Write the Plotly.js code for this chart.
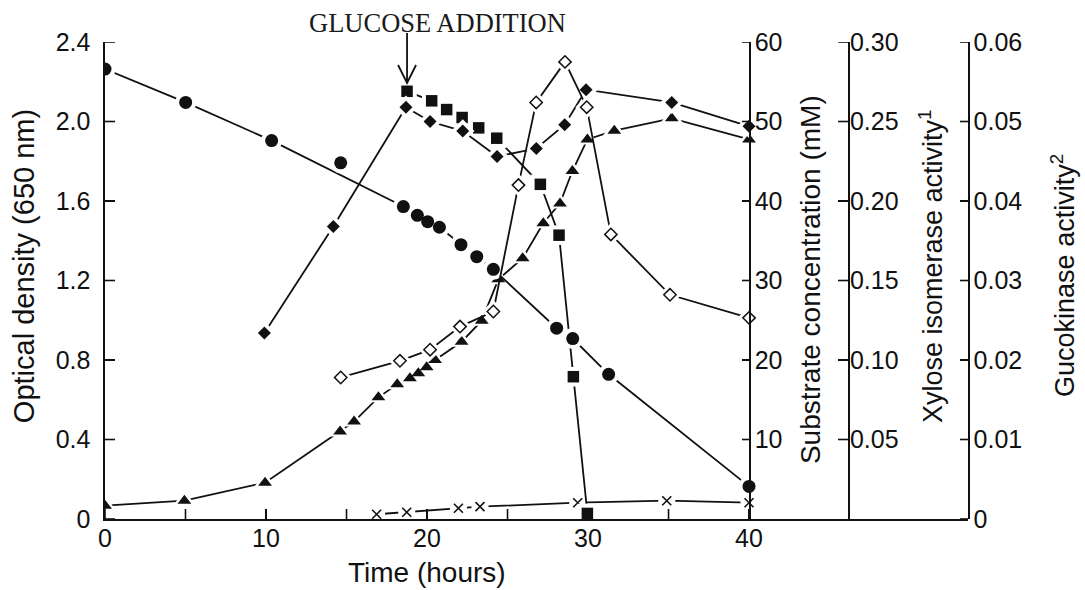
<!DOCTYPE html>
<html>
<head>
<meta charset="utf-8">
<script src="https://cdn.plot.ly/plotly-3.0.1.min.js"></script>
<style>
  html, body { margin: 0; padding: 0; background: #fff; }
  #chart { width: 1085px; height: 590px; }
</style>
</head>
<body>
<div id="chart"></div>
<script>
// ---- Readings over time (hours) ----
// Growth, optical density at 650 nm (filled triangles)
const growthT  = [0, 4.93, 9.94, 14.6, 15.47, 16.98, 18.15, 18.94, 19.46, 19.98, 20.5, 22.15, 23.4, 24.43, 25.94, 27.22, 28.26, 29.03, 29.96, 31.63, 35.2, 40.0];
const growthOD = [0.067, 0.092, 0.183, 0.44, 0.49, 0.612, 0.678, 0.708, 0.733, 0.763, 0.80, 0.892, 0.998, 1.206, 1.312, 1.488, 1.588, 1.751, 1.910, 1.954, 2.016, 1.910];

// Low-level readings plotted against the optical density scale (crosses)
const crossT  = [16.87, 18.74, 21.95, 23.29, 29.36, 34.89, 40.0];
const crossOD = [0.024, 0.034, 0.054, 0.062, 0.082, 0.092, 0.082];

// Xylose concentration, mM (filled circles)
const xyloseT  = [0, 5.01, 10.35, 14.64, 18.53, 19.4, 20.04, 20.77, 22.11, 23.09, 24.12, 28.05, 29.05, 31.28, 40.0];
const xyloseMM = [56.6, 52.4, 47.6, 44.8, 39.3, 38.2, 37.4, 36.7, 34.5, 33.0, 31.4, 24.0, 22.7, 18.2, 4.1];
// the 14.6 h reading sits off the drawn curve
const xyloseOffCurve = [3];

// Glucose concentration after the addition, mM (filled squares)
const glucoseT  = [18.76, 20.29, 21.22, 22.18, 23.21, 24.33, 27.04, 28.2, 29.09, 29.96];
const glucoseMM = [53.8, 52.6, 51.5, 50.5, 49.2, 47.9, 42.1, 35.7, 17.9, 0.7];

// Xylose isomerase activity (filled diamonds)
const isomeraseT   = [9.9, 14.18, 18.69, 20.19, 22.22, 24.35, 26.79, 28.55, 29.88, 35.2, 40.0];
const isomeraseAct = [0.117, 0.184, 0.259, 0.250, 0.244, 0.228, 0.233, 0.248, 0.270, 0.262, 0.247];

// Glucokinase activity (open diamonds)
const glucokinaseT   = [14.64, 18.32, 20.19, 22.05, 24.12, 25.68, 26.78, 28.57, 29.92, 31.42, 35.09, 40.0];
const glucokinaseAct = [0.0178, 0.0199, 0.0213, 0.0242, 0.0261, 0.0420, 0.0524, 0.0575, 0.0518, 0.0358, 0.0282, 0.0253];

// ---- Tick values and labels ----
const timeTicks  = [0, 5, 10, 15, 20, 25, 30, 35, 40];
const timeLabels = ['0', '', '10', '', '20', '', '30', '', '40'];
const odTicks    = [0, 0.4, 0.8, 1.2, 1.6, 2.0, 2.4];
const odLabels   = ['0', '0.4', '0.8', '1.2', '1.6', '2.0', '2.4'];
const mmTicks    = [10, 20, 30, 40, 50, 60];
const mmLabels   = ['10', '20', '30', '40', '50', '60'];
const xiTicks    = [0.05, 0.10, 0.15, 0.20, 0.25, 0.30];
const xiLabels   = ['0.05', '0.10', '0.15', '0.20', '0.25', '0.30'];
const gkTicks    = [0, 0.01, 0.02, 0.03, 0.04, 0.05, 0.06];
const gkLabels   = ['0', '0.01', '0.02', '0.03', '0.04', '0.05', '0.06'];

const TIME_AXIS_MAX = 53.6;   // time axis runs on under the extra scales
const LAST_SAMPLE_T = 40;     // substrate scale stands at the last sample
const SUBSTRATE_POS = LAST_SAMPLE_T / TIME_AXIS_MAX;
const ISOMERASE_POS = 0.8613;
const KINASE_POS = 1;

const INK = '#111111';
const SANS = '"Liberation Sans", Arial, Helvetica, sans-serif';
const SERIF = '"Liberation Serif", "Times New Roman", Times, serif';

const series = [
  { t: growthT,      v: growthOD,       axis: 'y',  symbol: 'triangle-up', size: 12 },
  { t: crossT,       v: crossOD,        axis: 'y',  symbol: 'x-thin-open', size: 9, stroke: 1.6, halo: 'square' },
  { t: xyloseT,      v: xyloseMM,       axis: 'y2', symbol: 'circle',      size: 13, offCurve: xyloseOffCurve },
  { t: glucoseT,     v: glucoseMM,      axis: 'y2', symbol: 'square',      size: 11.5 },
  { t: isomeraseT,   v: isomeraseAct,   axis: 'y3', symbol: 'diamond',     size: 10 },
  { t: glucokinaseT, v: glucokinaseAct, axis: 'y4', symbol: 'diamond',     size: 9.5, open: true }
];

const lineTraces = [], haloTraces = [], markTraces = [];
series.forEach(s => {
  const skip = s.offCurve || [];
  const keep = (_, i) => !skip.includes(i);
  lineTraces.push({
    type: 'scatter', mode: 'lines', yaxis: s.axis,
    x: s.t.filter(keep), y: s.v.filter(keep),
    line: { color: INK, width: 1.8 }, hoverinfo: 'skip', showlegend: false
  });
  // white halo so each line stops short of its markers
  haloTraces.push({
    type: 'scatter', mode: 'markers', yaxis: s.axis, x: s.t, y: s.v,
    marker: { symbol: s.halo || s.symbol.replace('-open', ''), size: s.size + 8, color: '#ffffff', line: { width: 0 } },
    hoverinfo: 'skip', showlegend: false
  });
  markTraces.push({
    type: 'scatter', mode: 'markers', yaxis: s.axis, x: s.t, y: s.v,
    marker: {
      symbol: s.symbol, size: s.size,
      color: s.open ? '#ffffff' : INK,
      line: { color: INK, width: s.open ? 1.5 : (s.stroke || 0) }
    },
    showlegend: false
  });
});

const axisBase = {
  showgrid: false, zeroline: false, showline: true,
  linecolor: INK, linewidth: 1.6,
  ticks: 'inside', tickcolor: INK, tickwidth: 1.6,
  tickmode: 'array', tickfont: { family: SANS, size: 25, color: INK },
  fixedrange: true
};

// Tick marks pointing into the plot, one per tick value
const TICK_LINE = { color: INK, width: 1.6 };
const tickShapes = [];
timeTicks.forEach(t => tickShapes.push({
  type: 'line', xref: 'x', yref: 'paper', x0: t, x1: t,
  ysizemode: 'pixel', yanchor: 0, y0: 0, y1: 10, line: TICK_LINE
}));
[
  ['y',  odTicks, 0,             10],
  ['y2', mmTicks, SUBSTRATE_POS, -7],
  ['y3', xiTicks, ISOMERASE_POS, -10],
  ['y4', gkTicks, KINASE_POS,    -8]
].forEach(([ref, vals, pos, len]) => vals.forEach(v => tickShapes.push({
  type: 'line', xref: 'paper', yref: ref, y0: v, y1: v,
  xsizemode: 'pixel', xanchor: pos, x0: 0, x1: len, line: TICK_LINE
})));

const titleFont = size => ({ family: SANS, size: size, color: INK });

const layout = {
  width: 1085, height: 590,
  margin: { l: 105, r: 117, t: 42, b: 71, pad: 0 },
  paper_bgcolor: '#ffffff', plot_bgcolor: '#ffffff',
  showlegend: false,
  xaxis: Object.assign({}, axisBase, {
    range: [0, TIME_AXIS_MAX], tickvals: timeTicks, ticktext: timeLabels,
    ticklen: 10, ticklabelstandoff: -4
  }),
  yaxis: Object.assign({}, axisBase, {
    range: [0, 2.4], tickvals: odTicks, ticktext: odLabels,
    ticklen: 10, ticklabelstandoff: 8
  }),
  yaxis2: Object.assign({}, axisBase, {
    overlaying: 'y', anchor: 'free', side: 'right', position: SUBSTRATE_POS,
    range: [0, 60], tickvals: mmTicks, ticktext: mmLabels,
    ticklen: 7, ticklabelstandoff: -1
  }),
  yaxis3: Object.assign({}, axisBase, {
    overlaying: 'y', anchor: 'free', side: 'right', position: ISOMERASE_POS,
    range: [0, 0.30], tickvals: xiTicks, ticktext: xiLabels,
    ticklen: 10, ticklabelstandoff: -5
  }),
  yaxis4: Object.assign({}, axisBase, {
    overlaying: 'y', anchor: 'free', side: 'right', position: KINASE_POS,
    range: [0, 0.06], tickvals: gkTicks, ticktext: gkLabels,
    ticklen: 8, ticklabelstandoff: -1
  }),
  annotations: [
    { text: 'Time (hours)', xref: 'x', x: 20, yref: 'paper', y: -0.113,
      xanchor: 'center', yanchor: 'middle', showarrow: false, font: titleFont(28) },
    { text: 'Optical density (650 nm)', xref: 'paper', x: -0.0939, yref: 'paper', y: 0.530,
      textangle: -90, xanchor: 'center', yanchor: 'middle', showarrow: false, font: titleFont(29) },
    { text: 'Substrate concentration (mM)', xref: 'paper', x: 0.8169, yref: 'paper', y: 0.503,
      textangle: -90, xanchor: 'center', yanchor: 'middle', showarrow: false, font: titleFont(28) },
    { text: 'Xylose isomerase activity<sup>1</sup>', xref: 'paper', x: 0.957, yref: 'paper', y: 0.530,
      textangle: -90, xanchor: 'center', yanchor: 'middle', showarrow: false, font: titleFont(27) },
    { text: 'Gucokinase activity<sup>2</sup>', xref: 'paper', x: 1.110, yref: 'paper', y: 0.5115,
      textangle: -90, xanchor: 'center', yanchor: 'middle', showarrow: false, font: titleFont(27) },
    { text: 'GLUCOSE ADDITION', xref: 'x', x: glucoseT[0], xshift: 30, yref: 'paper', y: 1.0746,
      xanchor: 'center', yanchor: 'top', showarrow: false,
      font: { family: SERIF, size: 26.5, color: '#1a1a1a' } }
  ],
  shapes: tickShapes.concat([
    // open-headed arrow marking when glucose went in
    { type: 'path', xref: 'x', yref: 'paper',
      xsizemode: 'pixel', ysizemode: 'pixel', xanchor: glucoseT[0], yanchor: 1,
      path: 'M0,9 L0,-41 M-9,-23 L0,-41 L9,-23',
      line: { color: INK, width: 1.8 } }
  ])
};

Plotly.newPlot('chart', lineTraces.concat(haloTraces, markTraces), layout,
  { displayModeBar: false, staticPlot: true });
</script>
</body>
</html>
